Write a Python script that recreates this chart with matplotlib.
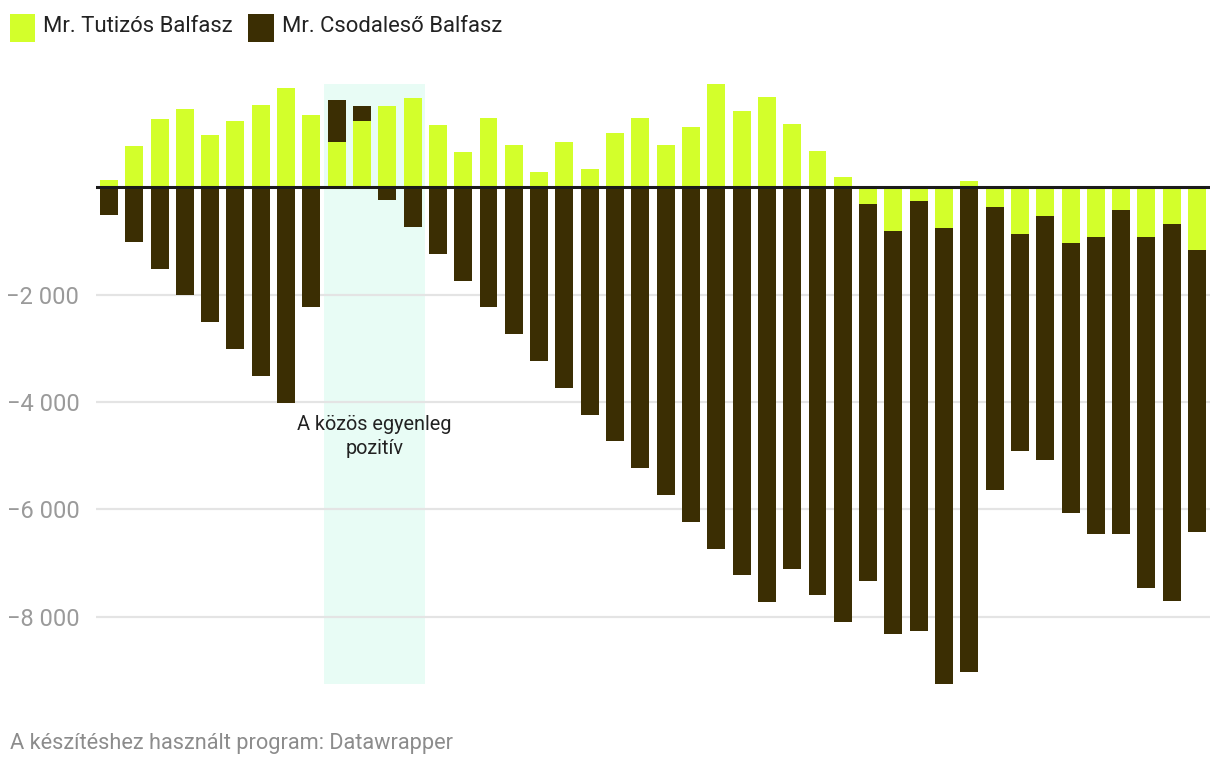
import matplotlib
matplotlib.use("Agg")
import matplotlib.pyplot as plt
from matplotlib.patches import Rectangle
import numpy as np

plt.rcParams['font.family'] = ['Roboto', 'DejaVu Sans']

series_names = ["Mr. Tutizós Balfasz", "Mr. Csodaleső Balfasz"]

tutizos = [140, 774, 1277, 1463, 979, 1240, 1538, 1855, 1351, 848,
           1240, 1519, 1668, 1165, 662, 1295, 792, 289, 848, 345,
           1016, 1295, 792, 1128, 1929, 1426, 1687, 1184, 680, 196,
           -308, -811, -252, -755, 121, -363, -867, -531, -1035, -923,
           -419, -923, -680, -1165]

csodaleso = [-513, -1016, -1519, -2000, -2500, -3005, -3510, -4010, -2220, 1631,
             1519, -233, -736, -1240, -1743, -2227, -2731, -3234, -3737, -4240,
             -4725, -5229, -5732, -6235, -6738, -7223, -7727, -7111, -7596, -8099,
             -7335, -8323, -8267, -9255, -9031, -5639, -4912, -5080, -6068, -6459,
             -6459, -7466, -7708, -6422]

yticks = [-8000, -6000, -4000, -2000]
ytick_labels = ["\u22128 000", "\u22126 000", "\u22124 000", "\u22122 000"]

highlight_start, highlight_end = 9, 12
annotation = "A közös egyenleg\npozitív"
footer = "A készítéshez használt program: Datawrapper"

LIME = "#d3ff2b"
DARK = "#3b2e03"
BAND = "#e8fcf5"

fig = plt.figure(figsize=(12.2, 7.68), dpi=100)
ax = fig.add_axes([96/1220, 1 - 684/768, (1210-96)/1220, 600/768])

x = np.arange(len(tutizos))
all_vals = np.array(tutizos + csodaleso)
ymin, ymax = all_vals.min(), all_vals.max()

ax.add_patch(Rectangle((highlight_start - 0.5, ymin), highlight_end - highlight_start + 1,
                       ymax - ymin, facecolor=BAND, edgecolor='none', zorder=0))

for t in yticks:
    ax.axhline(t, color="#e4e4e4", lw=1.6, zorder=1)

w = 0.71
ax.bar(x, csodaleso, width=w, color=DARK, zorder=2, label=series_names[1])
ax.bar(x, tutizos, width=w, color=LIME, zorder=3, label=series_names[0])
ax.axhline(0, color="#1a1a1a", lw=2.2, zorder=4)

ax.set_xlim(-0.51, len(x) - 0.49)
ax.set_ylim(ymin, ymax)
ax.set_yticks(yticks)
ax.set_yticklabels(ytick_labels)
ax.tick_params(axis='y', length=0, pad=12, labelsize=17, labelcolor="#9a9a9a")
ax.set_xticks([])
for s in ax.spines.values():
    s.set_visible(False)

ax.text((highlight_start + highlight_end) / 2, -4250, annotation, ha='center', va='top',
        fontsize=14.3, color="#222222", linespacing=1.3, zorder=5)

# legend
fig.patches.append(Rectangle((10/1220, 1 - 42/768), 25/1220, 28/768, transform=fig.transFigure,
                             facecolor=LIME, edgecolor='none'))
fig.text(43/1220, 1 - 27/768, series_names[0], ha='left', va='center', fontsize=15.9, color="#222222")
fig.patches.append(Rectangle((248/1220, 1 - 42/768), 26/1220, 28/768, transform=fig.transFigure,
                             facecolor=DARK, edgecolor='none'))
fig.text(282/1220, 1 - 27/768, series_names[1], ha='left', va='center', fontsize=15.9, color="#222222")

fig.text(10/1220, 1 - 743/768, footer, ha='left', va='center', fontsize=15.7, color="#8c8c8c")

fig.savefig("out.png", dpi=100, facecolor="white")
